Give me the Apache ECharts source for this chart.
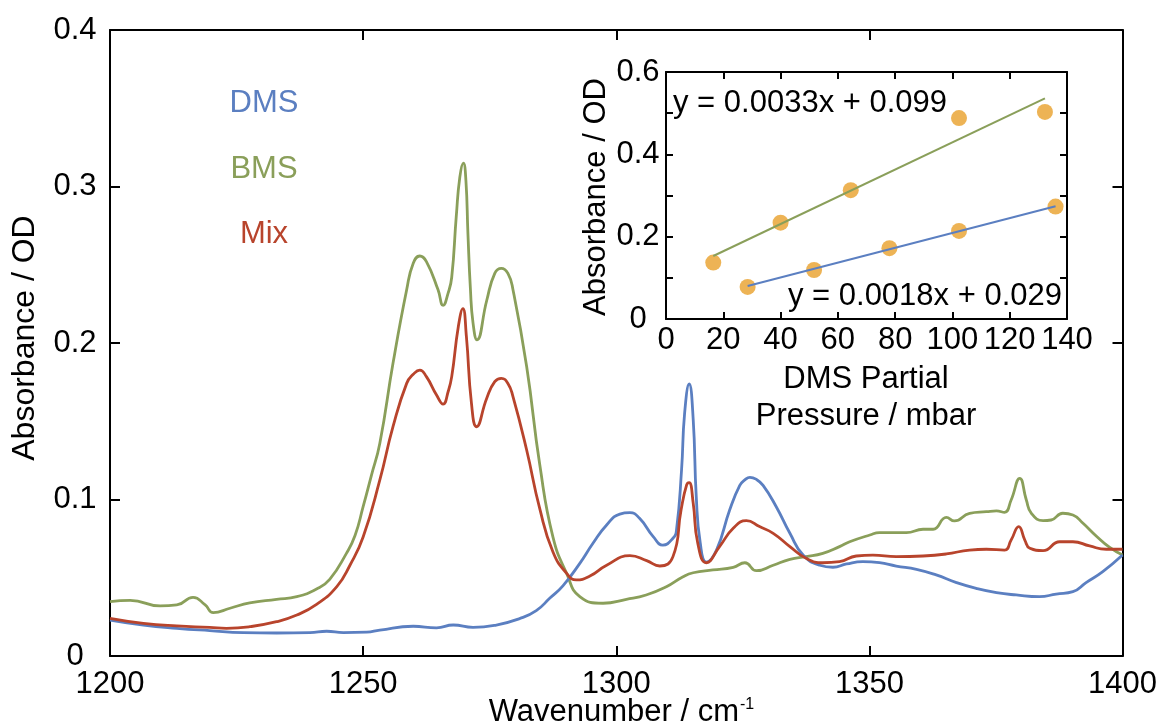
<!DOCTYPE html>
<html>
<head>
<meta charset="utf-8">
<script src="https://cdn.jsdelivr.net/npm/echarts@6/dist/echarts.min.js"></script>
<style>html,body{margin:0;padding:0;background:#fff}#c{width:1160px;height:726px}</style>
</head>
<body>
<div id="c"></div>
<script>
// ---- Main spectra data ----
const wnDMS = [1200,1206.6,1213.2,1219.7,1226.3,1232.9,1239.5,1242.8,1246.1,1250.7,1253.3,1259.9,1264.5,1267.8,1271.7,1276.3,1281,1284.2,1286.9,1289.5,1292.8,1295.4,1298.1,1300.7,1302.7,1304.6,1307.3,1309.2,1311.2,1311.9,1312.9,1313.5,1314.4,1315.2,1315.8,1316.6,1317.8,1319.8,1322.4,1324.4,1325.4,1326.4,1327.6,1329,1331.6,1334.3,1336.9,1340.2,1342.8,1345.5,1348.7,1352,1355.3,1359.3,1363.2,1367.2,1371.1,1375.1,1379,1383.6,1386.9,1390.2,1392.8,1396.1,1400];
const absDMS = [0.023,0.0198,0.0177,0.0162,0.0149,0.0147,0.0149,0.0158,0.015,0.0152,0.0166,0.019,0.018,0.0198,0.0183,0.0198,0.024,0.029,0.037,0.045,0.0592,0.072,0.0837,0.0907,0.0916,0.088,0.0763,0.0709,0.0752,0.0805,0.119,0.155,0.1738,0.151,0.102,0.072,0.060,0.0677,0.0933,0.109,0.1125,0.1142,0.113,0.109,0.0954,0.0784,0.0645,0.058,0.0567,0.0588,0.0603,0.0596,0.0575,0.0554,0.0518,0.0469,0.0432,0.0405,0.039,0.0379,0.0396,0.0411,0.0469,0.0539,0.0645];

const wnBMS = [1200,1204,1209.9,1213.2,1216.4,1218.8,1220.4,1223.7,1227.6,1232.9,1236.9,1240.8,1243.4,1246.7,1248.4,1250,1251.6,1253.3,1255.9,1258.6,1259.9,1261.2,1262.5,1264.8,1265.8,1266.8,1267.5,1268.4,1269.1,1269.8,1270.3,1270.7,1271.2,1271.7,1272.5,1274.4,1276,1277.3,1278.6,1279.6,1282.3,1284.9,1287.5,1290.2,1292.8,1297.4,1302,1305.9,1309.9,1313.2,1315.2,1319.1,1323.1,1325.4,1327.7,1331,1334.3,1337.5,1340.8,1344.1,1346.1,1350.1,1352,1357.3,1360.6,1362.6,1365.2,1366.8,1369.8,1373.1,1375.1,1376.7,1378,1379.7,1381,1382,1384.3,1385.9,1388.2,1390.2,1392.2,1394.8,1397.4,1400];
const absBMS = [0.0347,0.0356,0.032,0.0326,0.0375,0.0326,0.0277,0.0305,0.034,0.0362,0.0379,0.0428,0.049,0.0656,0.077,0.0954,0.115,0.136,0.187,0.234,0.251,0.2556,0.252,0.234,0.224,0.232,0.242,0.281,0.306,0.315,0.304,0.270,0.234,0.213,0.202,0.227,0.2445,0.2477,0.2445,0.234,0.185,0.122,0.076,0.0528,0.038,0.0337,0.0362,0.039,0.0443,0.0507,0.0532,0.055,0.0567,0.0596,0.0545,0.058,0.0618,0.0635,0.0656,0.0699,0.073,0.0773,0.0788,0.0788,0.081,0.081,0.0886,0.0863,0.0912,0.0922,0.0927,0.0918,0.0997,0.1135,0.0997,0.0912,0.0865,0.0869,0.0912,0.0901,0.0848,0.0767,0.0695,0.0645];

const wnMix = [1200,1206.6,1213.2,1219.7,1223,1227.6,1232.9,1236.9,1240.8,1244.8,1247.4,1250,1253.3,1255.9,1258.6,1259.9,1261.2,1262.5,1264.5,1265.8,1266.8,1267.5,1268.8,1269.7,1270.4,1271.4,1272.4,1274.4,1276,1277.3,1278.6,1279.6,1282.3,1284.9,1287.5,1290.2,1292.1,1294.8,1298.1,1302.7,1306,1308.6,1311.2,1312.8,1313.9,1314.4,1315.2,1316.1,1317.8,1320.4,1323.1,1325.7,1328.3,1331,1334.3,1337.5,1340.8,1344.1,1347.4,1350.7,1355.3,1360.6,1365.2,1369.8,1373.1,1376.7,1378,1379.5,1380.7,1381.7,1384.3,1387.6,1390.2,1393.5,1396.8,1400];
const absMix = [0.0241,0.0209,0.0192,0.0183,0.0177,0.0187,0.0219,0.0262,0.033,0.0443,0.058,0.076,0.1125,0.1465,0.1742,0.180,0.1827,0.1785,0.1668,0.161,0.169,0.1785,0.2104,0.222,0.204,0.1614,0.1465,0.1646,0.1753,0.1774,0.1742,0.1657,0.1316,0.094,0.0665,0.0528,0.0486,0.0511,0.058,0.0641,0.0609,0.0575,0.0635,0.0933,0.1093,0.1108,0.0976,0.072,0.0596,0.0699,0.0816,0.0865,0.0827,0.0784,0.0699,0.0624,0.0596,0.0603,0.0639,0.0645,0.0635,0.0639,0.0652,0.0677,0.0682,0.0677,0.0741,0.0827,0.0741,0.0688,0.0673,0.073,0.073,0.0703,0.0682,0.0682];

// ---- Inset data ----
const pBMS = [16.5,40.0,64.5,102.3,132.3];
const aBMS = [0.137,0.234,0.313,0.488,0.503];
const pDMS = [28.5,51.7,78.0,102.3,136.0];
const aDMS = [0.078,0.119,0.172,0.214,0.273];
const fitBMSx = [16.5,132.3], fitBMSy = [0.153,0.536];
const fitDMSx = [28.5,136.0], fitDMSy = [0.080,0.274];

const mainXTicks = {min:1200, max:1400, interval:50};
const mainYTicks = {min:0, max:0.4, interval:0.1};
const insetXTicks = {min:0, max:140, interval:20};
const insetYTicks = {min:0, max:0.6, interval:0.2};

const labels = {dms:'DMS', bms:'BMS', mix:'Mix', eqBMS:'y = 0.0033x + 0.099', eqDMS:'y = 0.0018x + 0.029',
  xName:'Wavenumber / cm', xSup:'-1', yName:'Absorbance / OD', inXName1:'DMS Partial', inXName2:'Pressure / mbar'};

const C_DMS = '#5b7fc1', C_BMS = '#8a9f5a', C_MIX = '#b8442c', C_DOT = '#e9a02b';
const FONT = 'Liberation Sans, Arial, sans-serif';
const FS = 31;

const zip = (a,b) => a.map((v,i)=>[v,b[i]]);
const plain = v => String(v);

function axisBase(t, opts) {
  return Object.assign({
    type:'value', min:t.min, max:t.max, interval:t.interval,
    axisLine:{show:true, onZero:false, lineStyle:{color:'#000', width:2}},
    axisTick:{show:true, inside:true, length:10, lineStyle:{color:'#000', width:2}},
    axisLabel:{show:false},
    splitLine:{show:false}
  }, opts);
}
const lab = (o) => Object.assign({show:true, color:'#000', fontSize:FS, fontFamily:FONT, formatter:plain}, o);
const smallTick = {show:true, inside:true, length:7, lineStyle:{color:'#000', width:2}};
const minor = {show:true, splitNumber:2, length:7, lineStyle:{color:'#000', width:2}};
const txt = (x,y,text,fill,align,extra,fs) => Object.assign({type:'text', x, y, style:{text, fill, font:(fs||FS)+'px '+FONT, textAlign:align, textVerticalAlign:'middle'}}, extra||{});

const chart = echarts.init(document.getElementById('c'), null, {renderer:'canvas'});
chart.setOption({
  animation:false,
  backgroundColor:'#fff',
  grid:[
    {left:110, top:30, right:37, bottom:70},
    {left:666, top:72, right:93, bottom:407}
  ],
  xAxis:[
    axisBase(mainXTicks, {gridIndex:0, position:'bottom', axisLabel:lab({margin:13})}),
    axisBase(mainXTicks, {gridIndex:0, position:'top'}),
    axisBase(insetXTicks, {gridIndex:1, position:'bottom', axisTick:smallTick, axisLabel:lab({margin:6})}),
    axisBase(insetXTicks, {gridIndex:1, position:'top', axisTick:smallTick})
  ],
  yAxis:[
    axisBase(mainYTicks, {gridIndex:0, position:'left', axisLabel:lab({align:'center', margin:35})}),
    axisBase(mainYTicks, {gridIndex:0, position:'right'}),
    axisBase(insetYTicks, {gridIndex:1, position:'left', axisTick:smallTick, minorTick:minor, axisLabel:lab({align:'center', margin:28})}),
    axisBase(insetYTicks, {gridIndex:1, position:'right', axisTick:smallTick, minorTick:minor})
  ],
  series:[
    {name:'BMS', type:'line', xAxisIndex:0, yAxisIndex:0, data:zip(wnBMS,absBMS), smooth:0.5, symbol:'none', lineStyle:{color:C_BMS, width:2.8}, z:3},
    {name:'DMS', type:'line', xAxisIndex:0, yAxisIndex:0, data:zip(wnDMS,absDMS), smooth:0.5, symbol:'none', lineStyle:{color:C_DMS, width:2.8}, z:4},
    {name:'Mix', type:'line', xAxisIndex:0, yAxisIndex:0, data:zip(wnMix,absMix), smooth:0.5, symbol:'none', lineStyle:{color:C_MIX, width:2.8}, z:5},
    {type:'line', xAxisIndex:2, yAxisIndex:2, data:zip(fitBMSx,fitBMSy), symbol:'none', lineStyle:{color:C_BMS, width:2}, z:3},
    {type:'line', xAxisIndex:2, yAxisIndex:2, data:zip(fitDMSx,fitDMSy), symbol:'none', lineStyle:{color:C_DMS, width:2}, z:3},
    {type:'scatter', xAxisIndex:2, yAxisIndex:2, data:zip(pBMS,aBMS), symbolSize:16, itemStyle:{color:C_DOT}, z:2},
    {type:'scatter', xAxisIndex:2, yAxisIndex:2, data:zip(pDMS,aDMS), symbolSize:16, itemStyle:{color:C_DOT}, z:2}
  ],
  graphic:[
    txt(264,103,labels.dms,C_DMS,'center'),
    txt(264,169,labels.bms,C_BMS,'center'),
    txt(264,234,labels.mix,C_MIX,'center'),
    txt(739,712,labels.xName,'#000','right'),
    {type:'text', x:740, y:705, style:{text:labels.xSup, fill:'#000', font:'16px '+FONT, textAlign:'left', textVerticalAlign:'middle'}},
    txt(25,338,labels.yName,'#000','center',{rotation:Math.PI/2},32),
    txt(596,197,labels.yName,'#000','center',{rotation:Math.PI/2}),
    txt(866,379,labels.inXName1,'#000','center'),
    txt(866,416,labels.inXName2,'#000','center'),
    txt(673,103,labels.eqBMS,'#000','left'),
    txt(1062,296,labels.eqDMS,'#000','right')
  ]
});
</script>
</body>
</html>
